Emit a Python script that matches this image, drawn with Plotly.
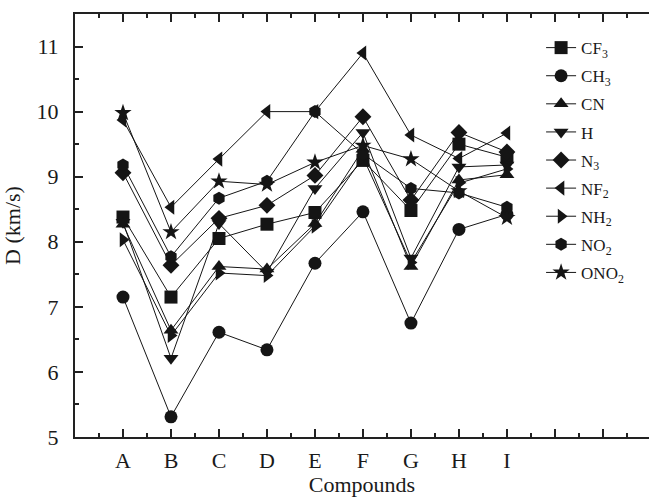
import plotly.graph_objects as go

compounds = ["A", "B", "C", "D", "E", "F", "G", "H", "I"]

CF3  = [8.38, 7.15, 8.05, 8.27, 8.45, 9.25, 8.48, 9.50, 9.30]
CH3  = [7.15, 5.31, 6.61, 6.34, 7.67, 8.46, 6.75, 8.19, 8.42]
CN   = [8.27, 6.64, 7.62, 7.58, 8.28, 9.42, 7.62, 8.95, 9.03]
H    = [8.30, 6.21, 8.28, 7.53, 8.82, 9.68, 7.75, 9.15, 9.18]
N3   = [9.06, 7.64, 8.36, 8.56, 9.02, 9.92, 8.64, 9.68, 9.38]
NF2  = [9.87, 8.53, 9.27, 10.00, 10.00, 10.90, 9.64, 9.28, 9.67]
NH2  = [8.03, 6.56, 7.52, 7.48, 8.24, 9.30, 7.68, 8.90, 9.12]
NO2  = [9.18, 7.77, 8.67, 8.93, 10.00, 9.35, 8.82, 8.75, 8.53]
ONO2 = [9.98, 8.15, 8.93, 8.88, 9.22, 9.48, 9.27, 8.78, 8.37]

series = [
    ("CF<sub>3</sub>", CF3, "square"),
    ("CH<sub>3</sub>", CH3, "circle"),
    ("CN", CN, "triangle-up"),
    ("H", H, "triangle-down"),
    ("N<sub>3</sub>", N3, "diamond"),
    ("NF<sub>2</sub>", NF2, "triangle-left"),
    ("NH<sub>2</sub>", NH2, "triangle-right"),
    ("NO<sub>2</sub>", NO2, "hexagon"),
    ("ONO<sub>2</sub>", ONO2, "star"),
]

xs = list(range(len(compounds)))
ink = "#151515"

fig = go.Figure()
for i, (name, vals, sym) in enumerate(series):
    fig.add_trace(go.Scatter(
        x=xs, y=vals, name=name, mode="lines+markers",
        legendgroup="g%d" % i,
        line=dict(color=ink, width=1),
        marker=dict(symbol=sym, size=13, color=ink, line=dict(width=0)),
    ))

font = dict(family="Liberation Serif, Times New Roman, serif", size=22, color="#1a1a1a")

fig.update_layout(
    width=649, height=497,
    margin=dict(l=75, r=0, t=14, b=60),
    paper_bgcolor="white", plot_bgcolor="white",
    font=font,
    showlegend=True,
    legend=dict(x=0.812, y=0.962, xanchor="left", yanchor="top",
                bgcolor="rgba(0,0,0,0)", font=dict(size=17),
                traceorder="grouped", tracegroupgap=3, itemwidth=30),
)
fig.update_xaxes(
    range=[-1, 10.96],
    tickmode="array", tickvals=list(range(11)),
    ticktext=compounds + ["", ""],
    ticks="inside", ticklen=8, tickwidth=1.5, tickcolor="#222",
    minor=dict(tickmode="array", tickvals=[i + 0.5 for i in range(-1, 11)],
               ticks="inside", ticklen=4, tickwidth=1.5, tickcolor="#222"),
    showline=True, linewidth=2, linecolor="#222", mirror="ticks",
    showgrid=False, zeroline=False,
    ticklabelstandoff=3,
    title=dict(text="Compounds", standoff=3, font=dict(size=22)),
)
fig.update_yaxes(
    range=[5, 11.5],
    tickmode="array", tickvals=[5, 6, 7, 8, 9, 10, 11],
    ticks="inside", ticklen=8, tickwidth=1.5, tickcolor="#222",
    minor=dict(tickmode="array", tickvals=[5.5, 6.5, 7.5, 8.5, 9.5, 10.5, 11.5],
               ticks="inside", ticklen=4, tickwidth=1.5, tickcolor="#222"),
    showline=True, linewidth=2, linecolor="#222", mirror=False,
    showgrid=False, zeroline=False,
    ticklabelstandoff=10,
    title=dict(text="D (km/s)", standoff=10, font=dict(size=22)),
)

fig.write_html("out.html", config={"displayModeBar": False},
               post_script="document.body.style.margin='0';")
